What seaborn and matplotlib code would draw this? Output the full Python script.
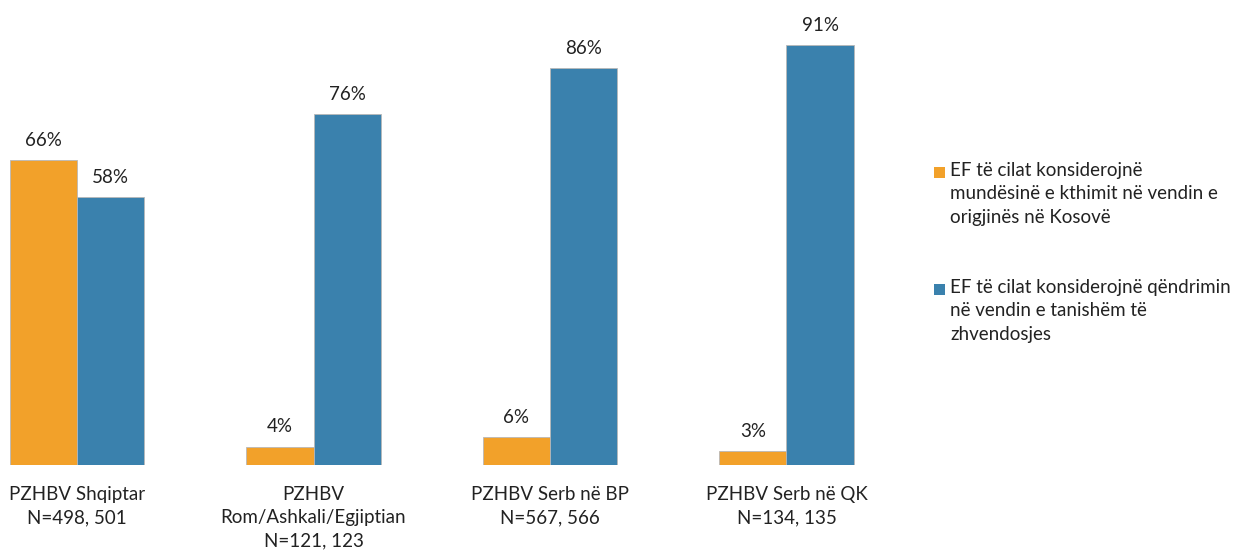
import matplotlib
matplotlib.use("Agg")
import matplotlib.pyplot as plt
from matplotlib.patches import Rectangle
import seaborn as sns
import pandas as pd

groups = [
    "PZHBV Shqiptar\nN=498, 501",
    "PZHBV\nRom/Ashkali/Egjiptian\nN=121, 123",
    "PZHBV Serb në BP\nN=567, 566",
    "PZHBV Serb në QK\nN=134, 135",
]
series_names = [
    "EF të cilat konsiderojnë\nmundësinë e kthimit në vendin e\norigjinës në Kosovë",
    "EF të cilat konsiderojnë qëndrimin\nnë vendin e tanishëm të\nzhvendosjes",
]
return_home = [66, 4, 6, 3]
stay_here = [58, 76, 86, 91]

df = pd.DataFrame({
    "group": groups * 2,
    "series": [series_names[0]] * 4 + [series_names[1]] * 4,
    "value": return_home + stay_here,
})

sns.set_theme(style="white")
plt.rcParams["font.family"] = ["Lato", "DejaVu Sans"]

colors = ["#F2A12A", "#3A81AD"]
text_color = "#222222"

fig = plt.figure(figsize=(12.37, 5.5), dpi=100)
ax = fig.add_axes([0.0, 85 / 550, 905 / 1237, 465 / 550])

sns.barplot(data=df, x="group", y="value", hue="series", hue_order=series_names,
            order=groups, palette=colors, saturation=1, width=0.567, gap=0, dodge=True,
            edgecolor="#b8b8b8", linewidth=0.6, errorbar=None, ax=ax, legend=False)

for cont in ax.containers:
    ax.bar_label(cont, labels=[f"{int(round(v))}%" for v in cont.datavalues],
                 padding=8, fontsize=13.5, color=text_color)

ax.set_xlim(-77 / 236.5, (905 - 77) / 236.5)
ax.set_ylim(0, 465 / 4.615)
ax.set_xlabel("")
ax.set_ylabel("")
ax.set_yticks([])
ax.tick_params(axis="x", length=0, pad=15, labelsize=13.5, labelcolor=text_color)
for lbl in ax.get_xticklabels():
    lbl.set_linespacing(1.45)
for s in ax.spines.values():
    s.set_visible(False)

# Legend: colour square aligned with the first line of each wrapped label
W, H = 1237, 550
for name, col, y_top in zip(series_names, colors, [172, 289]):
    fig.patches.append(Rectangle((934 / W, 1 - (y_top + 5.5) / H), 11 / W, 11 / H,
                                 transform=fig.transFigure, facecolor=col,
                                 edgecolor="none"))
    fig.text(950 / W, 1 - (y_top - 10) / H, name, ha="left", va="top",
             fontsize=13.5, color=text_color, linespacing=1.45)

fig.savefig("out.png", dpi=100)
